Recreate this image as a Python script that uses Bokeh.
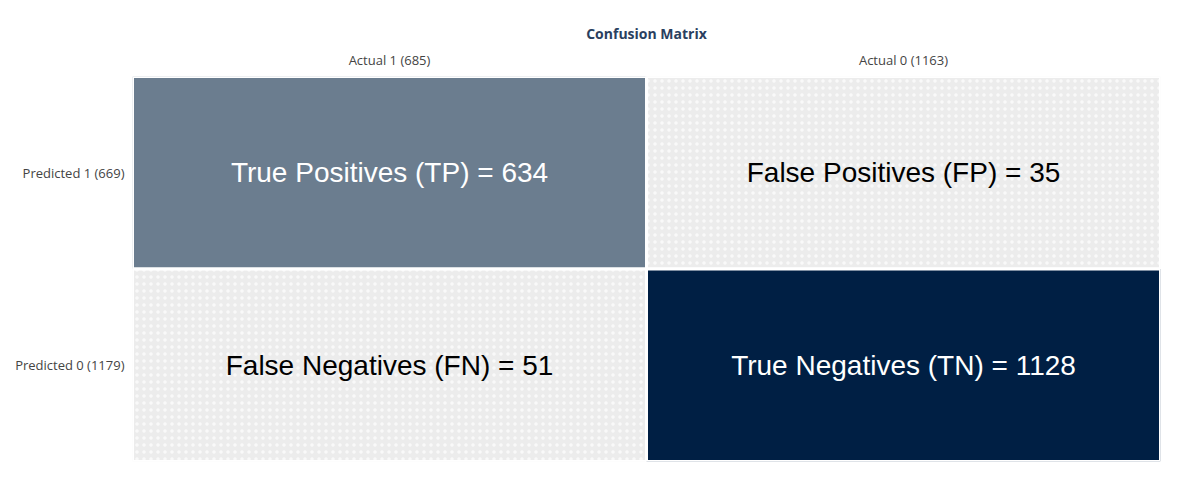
from bokeh.plotting import figure
from bokeh.models import FixedTicker, Range1d
from bokeh.core.properties import value
from bokeh.embed import file_html
from bokeh.resources import INLINE

col_labels = ["Actual 1 (685)", "Actual 0 (1163)"]
row_labels = ["Predicted 1 (669)", "Predicted 0 (1179)"]
cell_text = ["True Positives (TP) = 634", "False Positives (FP) = 35",
             "False Negatives (FN) = 51", "True Negatives (TN) = 1128"]
cell_col = [0, 1, 0, 1]
cell_row = [1, 1, 0, 0]
fills = ["#6b7d8f", "#ececec", "#ececec", "#001f44"]
hatches = [" ", "dot", "dot", " "]
text_colors = ["white", "black", "black", "white"]

p = figure(width=1184, height=483, output_backend="svg", toolbar_location=None,
           x_range=Range1d(0, 2), y_range=Range1d(0, 2), x_axis_location="above",
           min_border_left=132, min_border_right=24, min_border_top=76, min_border_bottom=22,
           title="Confusion Matrix")
p.title.align = "center"
p.title.text_font = "Open Sans"
p.title.text_font_size = "14px"
p.title.text_color = "#2a3f5f"
p.title.offset = 0
p.outline_line_color = None
p.grid.visible = False

p.quad(left=[c for c in cell_col], right=[c + 1 for c in cell_col],
       bottom=[r for r in cell_row], top=[r + 1 for r in cell_row],
       fill_color=fills, hatch_pattern=hatches, hatch_color="white",
       hatch_scale=7, hatch_weight=1, hatch_alpha=0.7,
       line_color="white", line_width=3)
p.text(x=[c + 0.5 for c in cell_col], y=[r + 0.5 for r in cell_row], text=cell_text,
       text_color=text_colors, text_align="center", text_baseline="middle",
       text_font=value("Liberation Sans"), text_font_size="28px")

for ax, labels in ((p.xaxis, col_labels), (p.yaxis, row_labels)):
    ax.ticker = FixedTicker(ticks=[0.5, 1.5])
    ax.axis_line_color = None
    ax.major_tick_line_color = None
    ax.minor_tick_line_color = None
    ax.major_label_text_font = "Open Sans"
    ax.major_label_text_font_size = "13px"
    ax.major_label_text_color = "#444444"
    ax.major_label_standoff = 2
p.xaxis.major_label_overrides = {0.5: col_labels[0], 1.5: col_labels[1]}
p.yaxis.major_label_overrides = {1.5: row_labels[0], 0.5: row_labels[1]}

open("out.html", "w").write(file_html(p, INLINE))
